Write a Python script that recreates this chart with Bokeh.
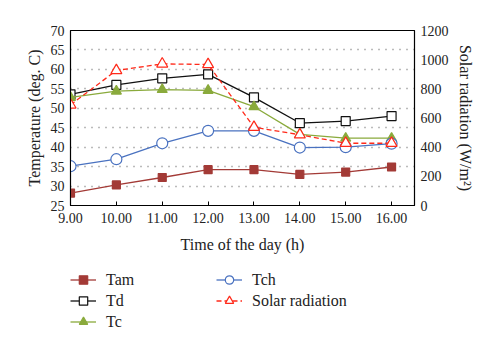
from bokeh.plotting import figure
from bokeh.layouts import column
from bokeh.models import Range1d, LinearAxis, FixedTicker, PrintfTickFormatter, Legend, LegendItem
from bokeh.embed import file_html
from bokeh.resources import INLINE

hours = [9, 10, 11, 12, 13, 14, 15, 16]
t_am = [28.2, 30.3, 32.2, 34.2, 34.2, 33.0, 33.6, 34.9]
t_d = [53.6, 56.0, 57.7, 58.7, 52.8, 46.2, 46.7, 48.0]
t_c = [52.8, 54.4, 54.8, 54.6, 50.4, 43.3, 42.3, 42.3]
t_ch = [35.1, 36.9, 41.0, 44.2, 44.2, 39.9, 40.0, 40.9]
solar = [690, 926, 971, 967, 537, 485, 427, 427]
series_names = ["Tam", "Td", "Tc", "Tch", "Solar radiation"]

FONT = "Liberation Serif"

p = figure(width=500, height=260, output_backend="svg", toolbar_location=None,
           x_range=Range1d(9, 16.5), y_range=Range1d(25, 70),
           min_border_left=70, min_border_right=86, min_border_top=30, min_border_bottom=55)
p.extra_y_ranges = {"solar": Range1d(0, 1200)}
p.outline_line_color = "black"
p.outline_line_width = 1.2
p.background_fill_color = "white"
p.border_fill_color = "white"

p.xgrid.visible = False
p.ygrid.ticker = FixedTicker(ticks=[30, 35, 40, 45, 50, 55, 60, 65])
p.ygrid.grid_line_color = "#777777"
p.ygrid.grid_line_dash = "1 6"
p.ygrid.grid_line_width = 1.3

def style_axis(ax):
    ax.axis_line_color = "black"
    ax.major_tick_in = 4
    ax.major_tick_out = 0
    ax.minor_tick_line_color = None
    ax.major_label_text_font = FONT
    ax.major_label_text_font_size = "14px"
    ax.major_label_text_color = "#222222"
    ax.axis_label_text_font = FONT
    ax.axis_label_text_font_size = "16px"
    ax.axis_label_text_font_style = "normal"
    ax.axis_label_text_color = "#222222"

xa = p.xaxis[0]
xa.ticker = FixedTicker(ticks=hours)
xa.formatter = PrintfTickFormatter(format="%.2f")
xa.axis_label = "Time of the day (h)"
style_axis(xa)
xa.major_label_standoff = 7
xa.axis_label_standoff = 10

ya = p.yaxis[0]
ya.ticker = FixedTicker(ticks=[25, 30, 35, 40, 45, 50, 55, 60, 65, 70])
ya.axis_label = "Temperature (deg. C)"
style_axis(ya)
ya.major_tick_in = 0
ya.major_label_standoff = 6

ra = LinearAxis(y_range_name="solar", ticker=FixedTicker(ticks=[0, 200, 400, 600, 800, 1000, 1200]),
                axis_label="Solar radiation (W/m²)")
style_axis(ra)
ra.major_tick_in = 0
ra.major_label_standoff = 6
p.add_layout(ra, "right")

c_am = "#A33A36"
c_d = "#111111"
c_c = "#8AAA3C"
c_ch = "#4A72C0"
c_s = "#FF2A1A"

styles = [
    dict(color=c_am, marker="square", size=8, fill=c_am, dash="solid"),
    dict(color=c_d, marker="square", size=9, fill="white", dash="solid"),
    dict(color=c_c, marker="triangle", size=10, fill=c_c, dash="solid"),
    dict(color=c_ch, marker="circle", size=11, fill="white", dash="solid"),
    dict(color=c_s, marker="triangle", size=11, fill="white", dash="5 3"),
]
data = [t_am, t_d, t_c, t_ch, solar]

for st, ys in zip(styles, data):
    kw = {"y_range_name": "solar"} if ys is solar else {}
    p.line(hours, ys, line_color=st["color"], line_width=1.3, line_dash=st["dash"], **kw)
    p.scatter(hours, ys, marker=st["marker"], size=st["size"], fill_color=st["fill"],
              line_color=st["color"], line_width=1.2, **kw)

# legend strip below the chart (its glyph renderers sit outside its visible range)
q = figure(width=500, height=89, output_backend="svg", toolbar_location=None,
           x_axis_type=None, y_axis_type=None, x_range=Range1d(0, 1), y_range=Range1d(0, 1),
           min_border_left=70, min_border_right=86, min_border_top=0, min_border_bottom=0)
q.outline_line_color = None
q.xgrid.visible = False
q.ygrid.visible = False

items = []
for st, name in zip(styles, series_names):
    lr = q.line([5, 6], [5, 6], line_color=st["color"], line_width=1.3, line_dash=st["dash"])
    mr = q.scatter([5], [5], marker=st["marker"], size=st["size"], fill_color=st["fill"],
                   line_color=st["color"], line_width=1.2)
    items.append(LegendItem(label=name, renderers=[lr, mr]))

def make_legend(its, x, y):
    lg = Legend(items=its, location=(x, y), orientation="vertical")
    lg.padding = 0
    lg.margin = 0
    lg.spacing = 0
    lg.glyph_width = 26
    lg.glyph_height = 21
    lg.label_height = 21
    lg.label_standoff = 10
    lg.label_text_font = FONT
    lg.label_text_font_size = "16px"
    lg.label_text_color = "#222222"
    lg.border_line_color = None
    lg.background_fill_alpha = 0
    q.add_layout(lg, "center")

make_legend(items[:3], 0, 17)
make_legend(items[3:], 146, 38)

open("out.html", "w").write(file_html(column(p, q), INLINE))
